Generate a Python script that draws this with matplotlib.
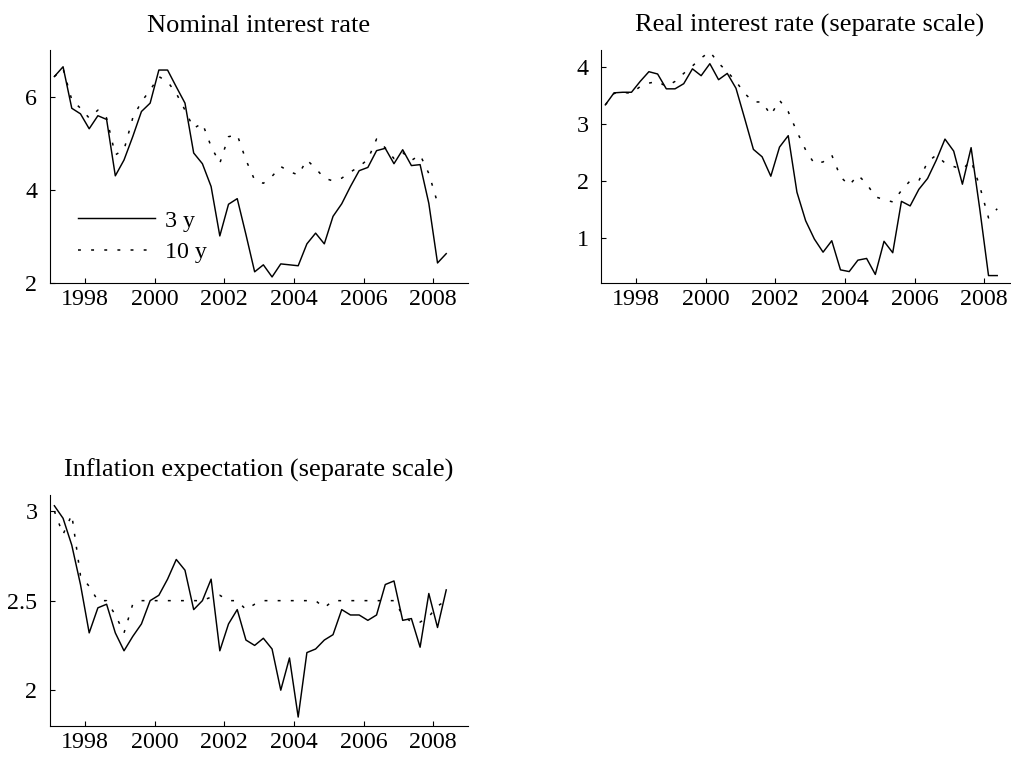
import numpy as np
import matplotlib
matplotlib.use("Agg")
import matplotlib.pyplot as plt
from matplotlib.ticker import FormatStrFormatter, FixedLocator

plt.rcParams['font.family'] = ['Liberation Serif', 'DejaVu Serif']
plt.rcParams['mathtext.fontset'] = 'stix'

# quarterly observations, 1997Q1 .. 2008Q2 (plotted at mid-quarter)
start_year = 1997.125
n_obs = 46

nominal_3y = [6.43, 6.64, 5.75, 5.63, 5.31, 5.59, 5.51, 4.30, 4.64, 5.14,
              5.68, 5.86, 6.57, 6.57, 6.21, 5.86, 4.79, 4.56, 4.07, 3.01,
              3.69, 3.81, 3.04, 2.24, 2.39, 2.13, 2.41, 2.39, 2.37, 2.84,
              3.07, 2.84, 3.43, 3.70, 4.07, 4.41, 4.48, 4.84, 4.89, 4.56,
              4.86, 4.52, 4.54, 3.71, 2.43, 2.63]
nominal_10y = [6.43, 6.60, 5.93, 5.75, 5.54, 5.71, 5.54, 4.75, 4.86, 5.54,
               5.89, 6.14, 6.43, 6.32, 6.07, 5.71, 5.32, 5.43, 4.93, 4.57,
               5.14, 5.18, 4.64, 4.21, 4.14, 4.29, 4.50, 4.39, 4.32, 4.64,
               4.46, 4.25, 4.19, 4.25, 4.38, 4.50, 4.65, 5.09, 4.90, 4.67,
               4.80, 4.63, 4.75, 4.35, 3.72, np.nan]

real_3y = [3.33, 3.54, 3.55, 3.55, 3.74, 3.91, 3.87, 3.61, 3.61, 3.70,
           3.96, 3.84, 4.05, 3.77, 3.88, 3.62, 3.09, 2.55, 2.42, 2.08,
           2.59, 2.79, 1.80, 1.30, 0.98, 0.75, 0.95, 0.44, 0.41, 0.61,
           0.64, 0.36, 0.94, 0.74, 1.64, 1.56, 1.85, 2.04, 2.36, 2.73,
           2.52, 1.94, 2.58, 1.50, 0.34, 0.34]
real_10y = [3.33, 3.53, 3.55, 3.53, 3.65, 3.71, 3.74, 3.65, 3.74, 3.88,
            4.01, 4.15, 4.26, 4.06, 3.91, 3.74, 3.53, 3.38, 3.38, 3.15,
            3.41, 3.21, 2.86, 2.54, 2.30, 2.33, 2.45, 2.07, 1.92, 2.10,
            1.95, 1.72, 1.67, 1.63, 1.83, 2.00, 2.00, 2.33, 2.45, 2.31,
            2.25, 2.20, 2.35, 1.90, 1.35, 1.51]

infl_3y = [3.03, 2.96, 2.81, 2.59, 2.32, 2.46, 2.48, 2.32, 2.22, 2.30,
           2.37, 2.50, 2.53, 2.62, 2.73, 2.67, 2.45, 2.50, 2.62, 2.22,
           2.37, 2.45, 2.28, 2.25, 2.29, 2.23, 2.00, 2.18, 1.85, 2.21,
           2.23, 2.28, 2.31, 2.45, 2.42, 2.42, 2.39, 2.42, 2.59, 2.61,
           2.39, 2.40, 2.24, 2.54, 2.35, 2.56]
infl_10y = [3.00, 2.87, 2.98, 2.64, 2.58, 2.50, 2.50, 2.42, 2.32, 2.48,
            2.50, 2.50, 2.50, 2.50, 2.50, 2.50, 2.50, 2.50, 2.52, 2.53,
            2.50, 2.50, 2.45, 2.48, 2.50, 2.50, 2.50, 2.50, 2.50, 2.50,
            2.50, 2.46, 2.50, 2.50, 2.50, 2.50, 2.50, 2.50, 2.50, 2.50,
            2.42, 2.38, 2.38, 2.41, 2.47, 2.50]

titles = ["Nominal interest rate", "Real interest rate (separate scale)",
          "Inflation expectation (separate scale)"]
legend_labels = ["3 y", "10 y"]
xticks = [1998, 2000, 2002, 2004, 2006, 2008]
yticks = [[2, 4, 6], [1, 2, 3, 4], [2, 2.5, 3]]
ylims = [(2, 7), (0.21, 4.29), (1.80, 3.09)]

t = start_year + 0.25 * np.arange(n_obs)

W, H = 1011, 762
fig = plt.figure(figsize=(W / 100, H / 100), dpi=100)

def fpos(x0, y0, x1, y1):
    return [x0 / W, 1 - y1 / H, (x1 - x0) / W, (y1 - y0) / H]

positions = [fpos(50, 50, 468, 283), fpos(601, 50, 1019, 283), fpos(50, 495, 468, 726)]
series = [(nominal_3y, nominal_10y), (real_3y, real_10y), (infl_3y, infl_10y)]

fs = 17.3
dot_style = (0, (1.9, 6.7))
axes = []
for i in range(3):
    ax = fig.add_axes(positions[i])
    s3, s10 = series[i]
    l1, = ax.plot(t, s3, color='black', lw=1.05, label=legend_labels[0])
    l2, = ax.plot(t, s10, color='black', lw=1.1, linestyle=dot_style,
                  label=legend_labels[1])
    ax.set_xlim(1997, 2009)
    ax.set_ylim(*ylims[i])
    ax.xaxis.set_major_locator(FixedLocator(xticks))
    ax.yaxis.set_major_locator(FixedLocator(yticks[i]))
    ax.yaxis.set_major_formatter(FormatStrFormatter('%g'))
    ax.spines['top'].set_visible(False)
    ax.spines['right'].set_visible(False)
    for sp in ('left', 'bottom'):
        ax.spines[sp].set_linewidth(0.8)
    ax.tick_params(direction='in', length=3.5, width=0.8, labelsize=fs)
    ax.tick_params(axis='x', pad=4.5)
    ax.tick_params(axis='y', pad=9)
    ax.set_title(titles[i], fontsize=19, pad=13)
    axes.append(ax)
    if i == 0:
        ax.legend(handles=[l1, l2], loc='center left',
                  bbox_to_anchor=(0.068, 0.199), frameon=False,
                  fontsize=fs, handlelength=3.2, handletextpad=0.4,
                  labelspacing=0.42, borderpad=0, borderaxespad=0)

fig.savefig("out.png", dpi=100)
